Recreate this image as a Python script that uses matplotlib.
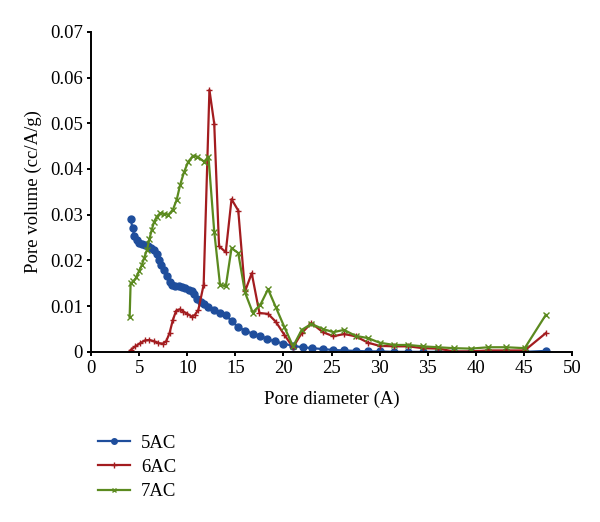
import matplotlib.pyplot as plt

# 5AC
x_5ac = [4.1, 4.3, 4.5, 4.75, 5.0, 5.3, 5.6, 5.96, 6.27, 6.55, 6.83, 7.07, 7.3, 7.6, 7.87,
         8.15, 8.4, 8.77, 9.1, 9.46, 9.8, 10.15, 10.46, 10.7, 11.05, 11.4, 11.7, 12.2, 12.8,
         13.4, 14.0, 14.6, 15.3, 16.0, 16.8, 17.6, 18.3, 19.1, 20.0, 21.0, 22.0, 23.0, 24.1,
         25.2, 26.3, 27.5, 28.8, 30.0, 31.5, 33.0, 34.5, 36.1, 37.7, 39.5, 41.3, 43.2, 45.1, 47.3]
y_5ac = [0.0291, 0.0270, 0.0254, 0.0245, 0.0239, 0.0236, 0.0233, 0.0231, 0.0228, 0.0222,
         0.0213, 0.0201, 0.0190, 0.0178, 0.0165, 0.0152, 0.0146, 0.0144, 0.0143, 0.0141,
         0.0140, 0.0136, 0.0132, 0.0126, 0.0115, 0.0110, 0.0104, 0.0098, 0.0092, 0.0086,
         0.0081, 0.0067, 0.0054, 0.0046, 0.0040, 0.0035, 0.0028, 0.0023, 0.0018, 0.0013,
         0.0010, 0.0008, 0.0006, 0.0004, 0.0003, 0.0002, 0.0001, 0.0001, 0.0, 0.0, 0.0,
         0.0, 0.0, 0.0, 0.0, 0.0, 0.0, 0.0002]

# 6AC
x_6ac = [4.0, 4.1, 4.6, 5.1, 5.6, 6.06, 6.55, 7.0, 7.45, 7.8, 8.15, 8.5, 8.84, 9.2, 9.6,
         10.0, 10.46, 10.8, 11.15, 11.7, 12.3, 12.8, 13.3, 14.0, 14.6, 15.3, 16.0, 16.7,
         17.5, 18.4, 19.2, 20.1, 21.0, 21.9, 22.9, 24.1, 25.2, 26.3, 27.5, 28.8, 30.0, 31.5,
         33.0, 34.5, 36.1, 37.7, 39.5, 41.3, 43.2, 45.1, 47.3]
y_6ac = [0.0, 0.0004, 0.0012, 0.0019, 0.0025, 0.0026, 0.0023, 0.0019, 0.0018, 0.0023,
         0.0041, 0.0070, 0.0090, 0.0093, 0.0088, 0.0083, 0.0077, 0.0081, 0.0092, 0.0147,
         0.0573, 0.0499, 0.0231, 0.0218, 0.0334, 0.0309, 0.0132, 0.0172, 0.0085, 0.0083,
         0.0066, 0.0037, 0.0010, 0.0041, 0.0063, 0.0043, 0.0034, 0.0039, 0.0034, 0.0020,
         0.0013, 0.0012, 0.0012, 0.0008, 0.0007, 0.0001, 0.0001, 0.0003, 0.0003, 0.0003, 0.0041]

# 7AC
x_7ac = [4.0, 4.1, 4.4, 4.7, 4.96, 5.27, 5.5, 5.8, 6.06, 6.3, 6.55, 6.83, 7.17, 7.6, 8.04,
         8.5, 8.9, 9.25, 9.67, 10.1, 10.6, 11.05, 11.75, 12.2, 12.8, 13.4, 14.0, 14.6, 15.3,
         16.0, 16.8, 17.6, 18.4, 19.2, 20.1, 21.0, 21.9, 22.9, 24.1, 25.2, 26.3, 27.5, 28.8,
         30.0, 31.5, 33.0, 34.5, 36.1, 37.7, 39.5, 41.3, 43.2, 45.1, 47.3]
y_7ac = [0.0076, 0.0150, 0.0154, 0.0163, 0.0176, 0.0190, 0.0205, 0.0223, 0.0247, 0.0267,
         0.0285, 0.0296, 0.0303, 0.0302, 0.0300, 0.0311, 0.0333, 0.0365, 0.0394, 0.0416,
         0.0429, 0.0427, 0.0416, 0.0427, 0.0263, 0.0147, 0.0143, 0.0227, 0.0216, 0.0130,
         0.0086, 0.0103, 0.0137, 0.0098, 0.0054, 0.0012, 0.0048, 0.0061, 0.0050, 0.0043,
         0.0048, 0.0035, 0.0030, 0.0020, 0.0015, 0.0015, 0.0012, 0.0010, 0.0008, 0.0007,
         0.0010, 0.0010, 0.0008, 0.0081]

plt.rcParams['font.family'] = ['Liberation Serif', 'DejaVu Serif']

fig = plt.figure(figsize=(6, 5.22), dpi=100)
ax = fig.add_axes([0.152, 0.326, 0.801, 0.613])

l1, = ax.plot(x_5ac, y_5ac, color='#1f4e9c', marker='o', markersize=5, linewidth=1.6, label='5AC')
l2, = ax.plot(x_6ac, y_6ac, color='#a31c1f', marker='+', markersize=5, linewidth=1.6, label='6AC')
l3, = ax.plot(x_7ac, y_7ac, color='#5b8a1f', marker='x', markersize=4, linewidth=1.6, label='7AC')

ax.set_xlim(0, 50)
ax.set_ylim(0, 0.07)
ax.set_xticks(range(0, 51, 5))
ax.set_yticks([i / 100 for i in range(8)])
ax.set_yticklabels(['0' if i == 0 else f'0.0{i}' for i in range(8)])
ax.spines['top'].set_visible(False)
ax.spines['right'].set_visible(False)
for s in ['left', 'bottom']:
    ax.spines[s].set_linewidth(1.4)
ax.tick_params(labelsize=13.5, direction='out', length=3, width=1.4, pad=3)
ax.set_xlabel('Pore diameter (A)', fontsize=13.5, labelpad=10)
ax.set_ylabel('Pore volume (cc/A/g)', fontsize=13.5, labelpad=6)

fig.legend(handles=[l1, l2, l3], loc='upper left', bbox_to_anchor=(0.135, 0.2),
           frameon=False, fontsize=13.5, handlelength=1.7, handletextpad=0.6,
           labelspacing=0.38, markerscale=0.8)

fig.savefig('out.png')
